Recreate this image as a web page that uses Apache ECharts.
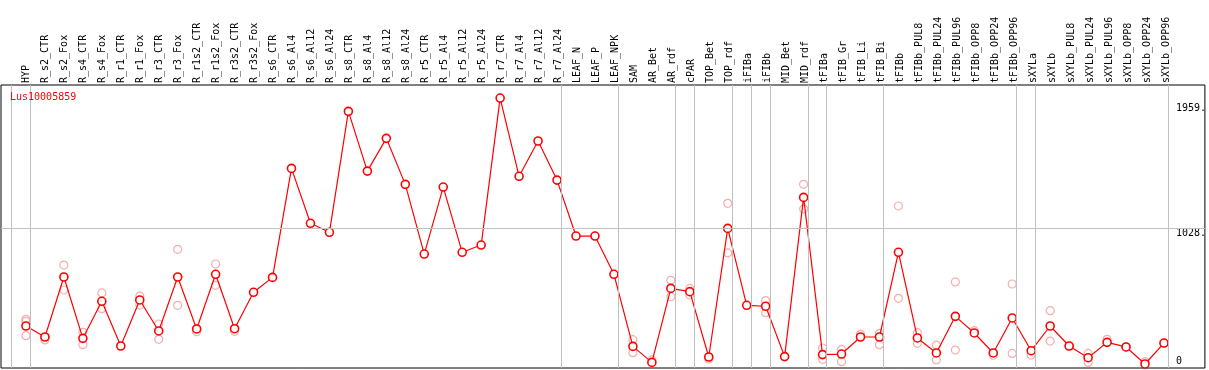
<!DOCTYPE html>
<html><head><meta charset="utf-8">
<script src="https://cdn.jsdelivr.net/npm/echarts@6/dist/echarts.min.js"></script>
<style>html,body{margin:0;padding:0;background:#fff}#c{width:1209px;height:370px}</style>
</head><body><div id="c"></div>
<script>
const geneName = 'Lus10005859';
const categories = ['HYP','R_s2_CTR','R_s2_Fox','R_s4_CTR','R_s4_Fox','R_r1_CTR','R_r1_Fox','R_r3_CTR','R_r3_Fox','R_r1s2_CTR','R_r1s2_Fox','R_r3s2_CTR','R_r3s2_Fox','R_s6_CTR','R_s6_Al4','R_s6_Al12','R_s6_Al24','R_s8_CTR','R_s8_Al4','R_s8_Al12','R_s8_Al24','R_r5_CTR','R_r5_Al4','R_r5_Al12','R_r5_Al24','R_r7_CTR','R_r7_Al4','R_r7_Al12','R_r7_Al24','LEAF_N','LEAF_P','LEAF_NPK','SAM','AR_Bet','AR_rdf','cPAR','TOP_Bet','TOP_rdf','iFIBa','iFIBb','MID_Bet','MID_rdf','tFIBa','tFIB_Gr','tFIB_Li','tFIB_Bi','tFIBb','tFIBb_PUL8','tFIBb_PUL24','tFIBb_PUL96','tFIBb_OPP8','tFIBb_OPP24','tFIBb_OPP96','sXYLa','sXYLb','sXYLb_PUL8','sXYLb_PUL24','sXYLb_PUL96','sXYLb_OPP8','sXYLb_OPP24','sXYLb_OPP96'];
const means = [298,216,663,206,482,149,492,261,663,276,683,278,549,660,1472,1063,996,1897,1452,1696,1353,834,1333,847,901,1996,1413,1676,1385,968,968,683,146,27,578,554,67,1025,452,445,70,1256,85,89,216,216,847,209,97,370,246,97,358,114,298,149,62,176,142,15,171];
const replicates = [[348,333,226],[216,194],[752,566],[251,159],[544,427],[],[521,454],[313,199],[869,452],[276,255],[760,601],[278,258],[],[],[],[],[],[],[],[],[],[],[],[],[],[],[],[],[],[],[],[],[196,99],[45],[638,516],[578,529],[52],[1212,842],[],[487,397],[],[1353,1170],[134,50],[122,32],[236],[243,159],[1192,504],[248,169],[156,45],[626,119],[263],[80],[611,94],[82],[412,186],[149],[94,27],[199],[142],[32],[171]];
const groupSizes = [1,28,3,3,1,2,1,1,2,1,3,7,1,7];
const yTickValues = [0,1028,1959];
const yTickLabels = {0:'0',1028:'1028.',1959:'1959.'};
const refLineValue = 1028;

const sepOffset = 0.22;
const sepIdx = [-1];
let acc = -1;
groupSizes.forEach(s => { acc += s; sepIdx.push(acc); });
const pxPerUnit = 138 / 1028;
const xMin = -25 / 19, xMax = xMin + 1206 / 19;
const mono = 'DejaVu Sans Mono';

const chart = echarts.init(document.getElementById('c'), null, {renderer:'canvas'});
chart.setOption({
  animation: false,
  backgroundColor: '#fff',
  title: {text: geneName, left: 10, top: 92, padding: 0,
    textStyle: {color: '#ff0000', fontSize: 10, fontWeight: 'normal', fontFamily: mono}},
  grid: [
    {left: 1, right: 2, top: 85, bottom: 2, show: true, borderColor: '#000', borderWidth: 1, backgroundColor: 'transparent'},
    {left: 26, right: 43, top: 85, bottom: 2}
  ],
  xAxis: [
    {type: 'value', gridIndex: 0, min: xMin, max: xMax, show: false},
    {type: 'category', gridIndex: 1, position: 'top', data: categories, boundaryGap: false,
      axisLine: {show: false}, axisTick: {show: false}, splitLine: {show: false},
      axisLabel: {rotate: 90, interval: 0, fontSize: 10, fontFamily: mono, color: '#000', margin: 2}}
  ],
  yAxis: [
    {type: 'value', gridIndex: 0, position: 'right', min: -2 / pxPerUnit, max: 281 / pxPerUnit,
      axisLine: {show: false}, axisTick: {show: false}, splitLine: {show: false},
      axisLabel: {inside: true, margin: 29, align: 'left', verticalAlign: 'top', verticalAlignMinLabel: 'bottom',
        customValues: yTickValues, formatter: v => yTickLabels[v] !== undefined ? yTickLabels[v] : '',
        fontSize: 10, fontFamily: mono, color: '#000'}},
    {type: 'value', gridIndex: 1, show: false}
  ],
  series: [
    {type: 'scatter', xAxisIndex: 0, yAxisIndex: 0, z: 2, silent: true,
      symbol: 'circle', symbolSize: 8,
      itemStyle: {color: 'rgba(0,0,0,0)', borderColor: '#f29a9a', borderWidth: 1.2},
      data: replicates.flatMap((arr, i) => arr.map(v => [i, v])),
      markLine: {silent: true, symbol: 'none', label: {show: false},
        lineStyle: {color: '#c0c0c0', width: 1, type: 'solid'},
        data: sepIdx.map(i => ({xAxis: i + sepOffset})).concat([{yAxis: refLineValue}])}},
    {type: 'line', xAxisIndex: 0, yAxisIndex: 0, z: 3, silent: true,
      symbol: 'circle', symbolSize: 8, showAllSymbol: true,
      itemStyle: {color: '#ffffff', borderColor: '#ff0000', borderWidth: 1.6},
      lineStyle: {color: '#ff0000', width: 1.2},
      data: means.map((v, i) => [i, v])}
  ]
});
</script></body></html>
